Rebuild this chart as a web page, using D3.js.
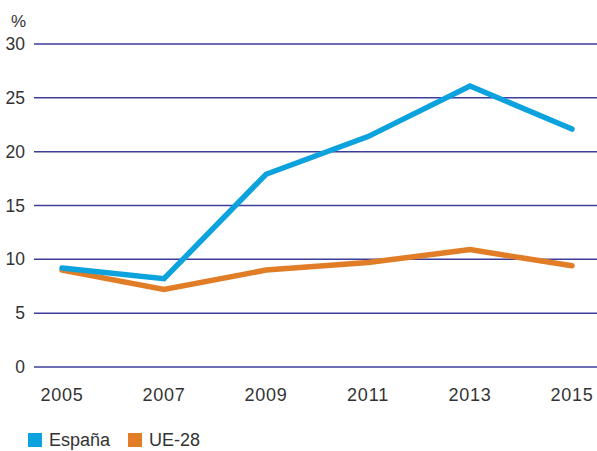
<!DOCTYPE html>
<html>
<head>
<meta charset="utf-8">
<script src="https://cdn.jsdelivr.net/npm/d3@7"></script>
<style>
body { margin: 0; background: #fff; }
text { font-family: "Liberation Sans", Arial, sans-serif; fill: #333; }
</style>
</head>
<body>
<div id="chart"></div>
<script>
var aYears = [2005, 2007, 2009, 2011, 2013, 2015];
var aEspana = [9.2, 8.2, 17.9, 21.4, 26.1, 22.1];
var aUE28 = [9.0, 7.2, 9.0, 9.7, 10.9, 9.4];
var aYTicks = [0, 5, 10, 15, 20, 25, 30];
var aSeries = [
	{ sName: "España", aValues: aEspana, sColor: "#0ba2dd" },
	{ sName: "UE-28", aValues: aUE28, sColor: "#e17d27" }
];

var iWidth = 597, iHeight = 451;

var svg = d3.select("#chart").append("svg")
	.attr("width", iWidth)
	.attr("height", iHeight);

var xScale = d3.scalePoint().domain(aYears).range([62, 572]);
var yScale = d3.scaleLinear().domain([0, 30]).range([367, 44]);

// grid lines
svg.append("g").selectAll("line")
	.data(aYTicks)
	.enter().append("line")
		.attr("x1", 34)
		.attr("x2", iWidth)
		.attr("y1", function(d) { return yScale(d); })
		.attr("y2", function(d) { return yScale(d); })
		.attr("stroke", "#3d3d9c")
		.attr("stroke-width", 1.5);

// y labels
svg.append("g").selectAll("text")
	.data(aYTicks)
	.enter().append("text")
		.attr("x", 25)
		.attr("y", function(d) { return yScale(d); })
		.attr("dy", "0.35em")
		.attr("text-anchor", "end")
		.attr("font-size", 17.5)
		.text(function(d) { return d; });

svg.append("text")
	.attr("x", 11)
	.attr("y", 27)
	.attr("font-size", 17)
	.text("%");

// x labels
svg.append("g").selectAll("text")
	.data(aYears)
	.enter().append("text")
		.attr("x", function(d) { return xScale(d); })
		.attr("y", 401)
		.attr("text-anchor", "middle")
		.attr("font-size", 18)
		.attr("letter-spacing", 0.8)
		.text(function(d) { return d; });

var line = d3.line()
	.x(function(d, i) { return xScale(aYears[i]); })
	.y(function(d) { return yScale(d); });

// draw UE-28 first so España is on top where they meet
aSeries.slice().reverse().forEach(function(oSerie) {
	svg.append("path")
		.datum(oSerie.aValues)
		.attr("d", line)
		.attr("fill", "none")
		.attr("stroke", oSerie.sColor)
		.attr("stroke-width", 5.5)
		.attr("stroke-linejoin", "miter")
		.attr("stroke-linecap", "round");
});

// legend
var aLegendX = [28, 128];
aSeries.forEach(function(oSerie, i) {
	var x = aLegendX[i];
	svg.append("rect")
		.attr("x", x)
		.attr("y", 433)
		.attr("width", 14)
		.attr("height", 14)
		.attr("fill", oSerie.sColor);
	svg.append("text")
		.attr("x", x + 21)
		.attr("y", 446)
		.attr("font-size", 18)
		.text(oSerie.sName);
});
</script>
</body>
</html>
